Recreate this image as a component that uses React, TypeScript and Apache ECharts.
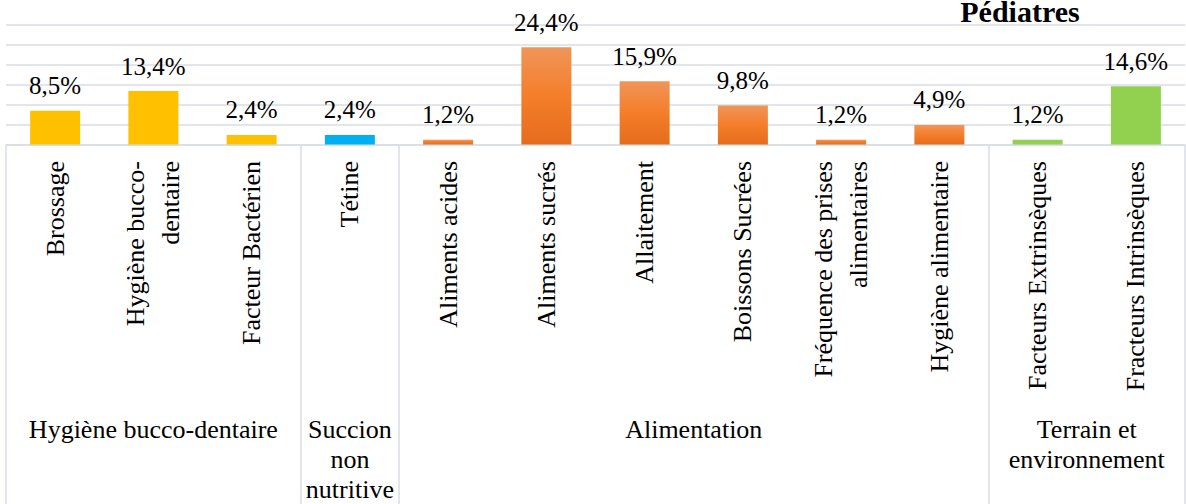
import React, { useEffect, useRef } from "react";
import * as echarts from "echarts";

const categories = [
  "Brossage",
  "Hygiène bucco-\ndentaire",
  "Facteur Bactérien",
  "Tétine",
  "Aliments acides",
  "Aliments sucrés",
  "Allaitement",
  "Boissons Sucrées",
  "Fréquence des prises\nalimentaires",
  "Hygiène alimentaire",
  "Facteurs Extrinsèques",
  "Fracteurs Intrinsèques",
];
const values = [8.5, 13.4, 2.4, 2.4, 1.2, 24.4, 15.9, 9.8, 1.2, 4.9, 1.2, 14.6];
const groupOf = [0, 0, 0, 1, 2, 2, 2, 2, 2, 2, 3, 3];
const groupNames = [
  "Hygiène bucco-dentaire",
  "Succion\nnon\nnutritive",
  "Alimentation",
  "Terrain et\nenvironnement",
];
// group boundaries & centers on a 0..12 category-index scale
const groupBounds = [0, 3, 4, 10, 12];
const groupCenters = [1.5, 3.5, 7, 11];
const yTicks = { min: 0, max: 30, interval: 5 };
const title = "Pédiatres";

const FONT = "Liberation Serif";
const LINE = "#D9DEE6";

export default function App() {
  const ref = useRef<HTMLDivElement>(null);
  useEffect(() => {
    if (!ref.current) return;
    const chart = echarts.init(ref.current, undefined, { renderer: "svg" });
    const orange = () =>
      new echarts.graphic.LinearGradient(0, 0, 0, 1, [
        { offset: 0, color: "#F0955A" },
        { offset: 0.5, color: "#F47E2A" },
        { offset: 1, color: "#E56C1C" },
      ]);
    const colorFor = (g: number) =>
      g === 0 ? "#FFC000" : g === 1 ? "#00B0F0" : g === 2 ? orange() : "#92D050";
    chart.setOption({
      animation: false,
      textStyle: { fontFamily: FONT },
      grid: { left: 6, right: 1, top: 25, bottom: 358.5, containLabel: false },
      graphic: [
        {
          type: "text",
          x: 1020,
          y: 11.5,
          style: {
            text: title,
            fontSize: 30,
            fontWeight: "bold",
            fontFamily: FONT,
            fill: "#000",
            align: "center",
            verticalAlign: "middle",
          },
        },
      ],
      xAxis: [
        {
          type: "category",
          data: categories,
          position: "bottom",
          axisLine: { show: true, lineStyle: { color: LINE, width: 1.5 } },
          axisTick: { show: false },
          axisLabel: {
            interval: 0,
            rotate: 90,
            margin: 16.5,
            fontSize: 26,
            lineHeight: 35,
            color: "#000",
            fontFamily: FONT,
          },
        },
        {
          type: "value",
          min: 0,
          max: 12,
          position: "bottom",
          axisLine: { show: false },
          splitLine: { show: false },
          axisTick: {
            show: true,
            customValues: groupBounds,
            length: 360,
            lineStyle: { color: LINE, width: 1.5 },
          },
          axisLabel: {
            show: true,
            customValues: groupCenters,
            formatter: (v: number) => {
              const i = groupCenters.indexOf(v);
              return i >= 0 ? groupNames[i] : "";
            },
            margin: 269.5,
            fontSize: 26,
            lineHeight: 30,
            color: "#000",
            fontFamily: FONT,
            align: "center",
            verticalAlign: "top",
          },
        },
      ],
      yAxis: {
        type: "value",
        min: yTicks.min,
        max: yTicks.max,
        interval: yTicks.interval,
        axisLabel: { show: false },
        axisLine: { show: false },
        axisTick: { show: false },
        splitLine: { show: true, lineStyle: { color: LINE, width: 1.5 } },
      },
      series: [
        {
          type: "bar",
          xAxisIndex: 0,
          barWidth: 50,
          data: values.map((v, i) => ({
            value: v,
            itemStyle: { color: colorFor(groupOf[i]) },
          })),
          label: {
            show: true,
            position: "top",
            distance: 12.5,
            fontSize: 25,
            color: "#000",
            fontFamily: FONT,
            formatter: (p: any) => String(p.value).replace(".", ",") + "%",
          },
        },
      ],
    });
    return () => chart.dispose();
  }, []);
  return (
    <div
      ref={ref}
      style={{ position: "fixed", left: 0, top: 0, width: 1186, height: 504, background: "#fff" }}
    />
  );
}
